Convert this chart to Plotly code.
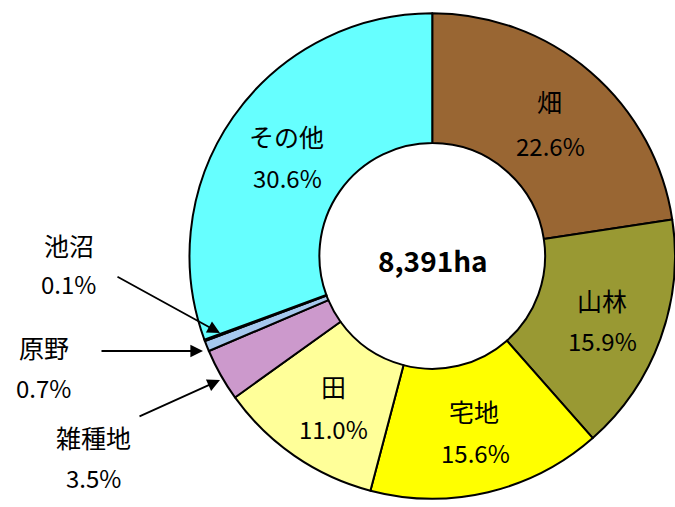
import plotly.graph_objects as go

W, H = 675, 507

categories = ["畑", "山林", "宅地", "田", "雑種地", "原野", "池沼", "その他"]
shares = [22.6, 15.9, 15.6, 11.0, 3.5, 0.7, 0.1, 30.6]
share_labels = ["22.6%", "15.9%", "15.6%", "11.0%", "3.5%", "0.7%", "0.1%", "30.6%"]
total_label = "8,391ha"
colors = ["#996633", "#999933", "#FFFF00", "#FFFF99", "#CC99CC", "#A6C8EE", "#6699CC", "#66FFFF"]

# pie geometry (pixels)
cx, cy, r = 432.5, 256, 243

fig = go.Figure(go.Pie(
    labels=categories,
    values=shares,
    sort=False,
    direction="clockwise",
    rotation=0,
    hole=0.465,
    marker=dict(colors=colors, line=dict(color="black", width=2)),
    textinfo="none",
    hoverinfo="skip",
    showlegend=False,
    domain=dict(x=[(cx - r) / W, 1.0], y=[(H - (cy + r)) / H, (H - (cy - r)) / H]),
))

FONT = "Noto Sans CJK JP"

def px(x, y):
    return x / W, 1 - y / H

# label positions (pixel centres), one per category
label_pos = {
    "畑": ((549, 101), (550, 145)),
    "山林": ((602, 300), (602, 340)),
    "宅地": ((474, 411), (475, 452)),
    "田": ((333, 386), (333, 428)),
    "雑種地": ((93, 437), (93, 477)),
    "原野": ((44, 347), (43, 387)),
    "池沼": ((69, 245), (68, 283)),
    "その他": ((286, 136), (287, 177)),
}

annotations = []
for cat, lab in zip(categories, share_labels):
    (nx, ny), (vx, vy) = label_pos[cat]
    x, y = px(nx, ny)
    annotations.append(dict(x=x, y=y, xref="paper", yref="paper", text=cat, showarrow=False,
                            font=dict(family=FONT, size=25, color="black"),
                            xanchor="center", yanchor="middle"))
    x, y = px(vx, vy)
    annotations.append(dict(x=x, y=y, xref="paper", yref="paper", text=lab, showarrow=False,
                            font=dict(family=FONT, size=24, color="black"),
                            xanchor="center", yanchor="middle"))

x, y = px(cx, 260)
annotations.append(dict(x=x, y=y, xref="paper", yref="paper", text="<b>" + total_label + "</b>",
                        showarrow=False, font=dict(family=FONT, size=28, color="black"),
                        xanchor="center", yanchor="middle"))

# arrows: (head, tail)
arrows = [((220, 333), (116, 276)), ((203, 351), (100, 351)), ((220, 380), (138, 417))]
for (hx, hy), (tx, ty) in arrows:
    x, y = px(hx, hy)
    annotations.append(dict(x=x, y=y, xref="paper", yref="paper", text="", showarrow=True,
                            ax=tx - hx, ay=ty - hy, axref="pixel", ayref="pixel",
                            arrowhead=2, arrowsize=1.4, arrowwidth=1.8, arrowcolor="black"))

fig.update_layout(
    width=W, height=H,
    margin=dict(l=0, r=0, t=0, b=0),
    paper_bgcolor="white", plot_bgcolor="white",
    annotations=annotations,
)

fig.write_html("out.html", config={"displayModeBar": False},
               post_script="document.body.style.margin='0';")
